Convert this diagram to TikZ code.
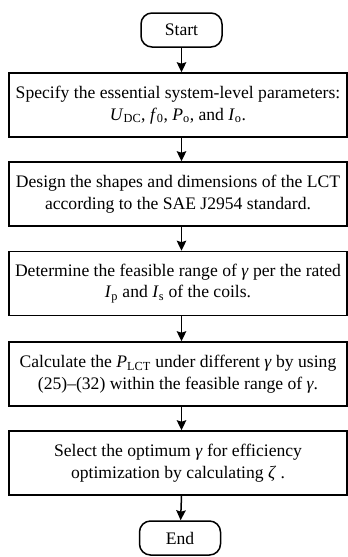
\documentclass[tikz,border=0pt]{standalone}
\usepackage{fontspec}
\setmainfont{Liberation Serif}
\usepackage{tikz}
\usetikzlibrary{positioning, arrows.meta}
\newcommand{\vg}{\textit{γ}}
\newcommand{\isub}[2]{\textit{#1}\textsubscript{#2}}
\tikzset{
  stepbox/.style={draw=black, line width=1.5pt, minimum width=338pt, minimum height=64pt,
    inner sep=2pt, align=center, font=\fontsize{17.6}{21.5}\selectfont},
  termbox/.style={draw=black, line width=1.5pt, rounded corners=11pt, minimum width=81pt,
    minimum height=34pt, inner sep=2pt, font=\fontsize{17.6}{21.5}\selectfont},
  flowarr/.style={-{Stealth[length=10pt, width=9.5pt, inset=1.5pt]}, line width=1.5pt, black},
}
\begin{document}
\begin{tikzpicture}[x=1pt, y=-1pt]
    \useasboundingbox (0,0) rectangle (348,557);
    \node[termbox] (start) at (181.5,30) {Start};
    \node[stepbox] (par) at (178,105) {Specify the essential system-level parameters:\\
      \isub{U}{DC}, \textit{f}\textsubscript{0}, \isub{P}{o}, and \isub{I}{o}.};
    \node[stepbox] (lct) at (178,194) {Design the shapes and dimensions of the LCT\\
      according to the SAE J2954 standard.};
    \node[stepbox] (rng) at (178,283.5) {Determine the feasible range of \vg{} per the rated\\
      \isub{I}{p} and \isub{I}{s} of the coils.};
    \node[stepbox] (calc) at (178,374) {Calculate the \isub{P}{LCT} under different \vg{} by using\\
      (25)--(32) within the feasible range of \vg.};
    \node[stepbox] (sel) at (178,463) {Select the optimum \vg{} for efficiency\\
      optimization by calculating \textit{ζ} .};
    \node[termbox] (end) at (180,538) {End};
    \draw[flowarr] (start) -- (start |- par.north);
    \draw[flowarr] (par.south -| start) -- (lct.north -| start);
    \draw[flowarr] (lct.south -| start) -- (rng.north -| start);
    \draw[flowarr] (rng.south -| start) -- (calc.north -| start);
    \draw[flowarr] (calc.south -| start) -- (sel.north -| start);
    \draw[flowarr] (sel.south -| start) -- (end);
\end{tikzpicture}
\end{document}
